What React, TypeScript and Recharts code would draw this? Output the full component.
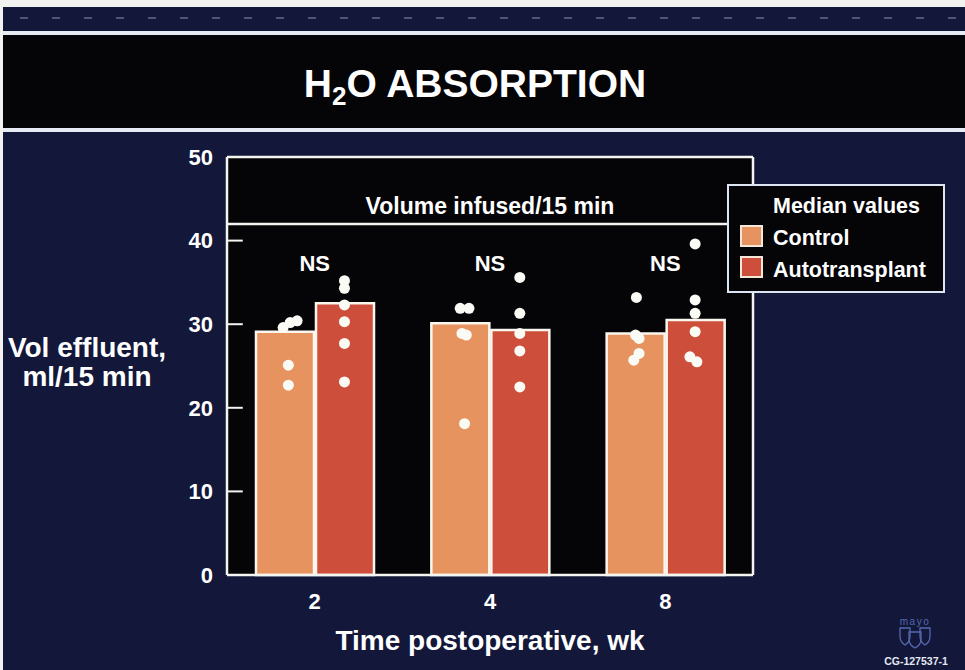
import React from "react";
import {
  ComposedChart,
  Bar,
  Scatter,
  XAxis,
  YAxis,
  CartesianGrid,
  ReferenceLine,
  ReferenceDot,
  ReferenceArea,
  Legend,
} from "recharts";

const weeks = ["2", "4", "8"];
const controlMedian = [29.1, 30.1, 28.9];
const autoMedian = [32.5, 29.3, 30.5];

// individual animals at each week
const controlPoints = [
  [29.6, 30.2, 30.4, 25.1, 22.7],
  [31.9, 31.9, 28.9, 28.7, 18.1],
  [33.2, 28.7, 28.3, 26.5, 25.7],
];
const autoPoints = [
  [35.2, 34.3, 32.3, 30.3, 27.7, 23.1],
  [35.6, 31.3, 28.9, 26.8, 22.5],
  [39.6, 32.9, 31.3, 29.1, 26.1, 25.5],
];
// sideways nudge (in category widths) so touching dots stay readable
const controlNudge = [
  [-0.01, 0.03, 0.07, 0.02, 0.02],
  [0.0, 0.05, 0.01, 0.035, 0.025],
  [0.005, 0.0, 0.02, 0.02, -0.01],
];
const autoNudge = [
  [0, 0, 0, 0, 0, 0],
  [0, 0, 0, 0, 0],
  [0, 0, 0, 0, -0.03, 0.01],
];

const yTicks = [0, 10, 20, 30, 40, 50];
const innerTicks = [10, 20, 30, 40];
const infusedVolume = 42;
const nsLevel = 37.3;

const CONTROL_COLOR = "#e7935f";
const AUTO_COLOR = "#cd4e3b";
const NAVY = "#13173a";
const FONT = '"Liberation Sans", Arial, Helvetica, sans-serif';

// centre of each bar inside its category, on the 0..3 position axis
const CONTROL_SLOT = 0.33;
const AUTO_SLOT = 0.67;

const data = weeks.map((week, i) => ({
  week,
  control: controlMedian[i],
  auto: autoMedian[i],
}));

const dots = weeks.flatMap((_, i) => [
  ...controlPoints[i].map((v, j) => ({ pos: i + CONTROL_SLOT + controlNudge[i][j], value: v })),
  ...autoPoints[i].map((v, j) => ({ pos: i + AUTO_SLOT + autoNudge[i][j], value: v })),
]);

const WhiteDot = (props: any) => <circle cx={props.cx} cy={props.cy} r={5.5} fill="#fbfbf6" />;

const LegendBox = () => (
  <svg width={218} height={109} style={{ display: "block" }}>
    <rect x={1} y={1} width={216} height={107} fill="#050407" stroke="#dde5f2" strokeWidth={2} />
    <g fill="#fff" fontWeight={700} fontSize={21.5} fontFamily={FONT}>
      <text x={46} y={29}>Median values</text>
      <rect x={14} y={42} width={21} height={20} fill={CONTROL_COLOR} stroke="#f4e6d8" strokeWidth={2} />
      <text x={46} y={61}>Control</text>
      <rect x={14} y={73} width={21} height={20} fill={AUTO_COLOR} stroke="#f4e6d8" strokeWidth={2} />
      <text x={46} y={93}>Autotransplant</text>
    </g>
  </svg>
);

const YTitle = ({ viewBox }: any) => {
  const cy = viewBox.y + viewBox.height / 2;
  return (
    <text x={87} textAnchor="middle" fill="#fff" fontSize={28} fontWeight={700} fontFamily={FONT}>
      <tspan x={87} y={cy - 9}>Vol effluent,</tspan>
      <tspan x={87} y={cy + 20}>ml/15 min</tspan>
    </text>
  );
};

const Backdrop = () => (
  <svg width={965} height={670} style={{ position: "absolute", left: 0, top: 0 }}>
    <rect x={0} y={0} width={965} height={670} fill="#f2f2f0" />
    <rect x={3} y={7} width={962} height={663} fill={NAVY} />
    <line x1={20} y1={18} x2={960} y2={18} stroke="#4f5575" strokeWidth={2} strokeDasharray="8 24" />
    <rect x={3} y={31} width={962} height={101} fill="#e6eaf2" />
    <rect x={3} y={35} width={962} height={93} fill="#050407" />
    <text x={475} y={97} textAnchor="middle" fill="#fff" fontSize={39} fontWeight={700} fontFamily={FONT}>
      H
      <tspan fontSize={26} dy={8}>2</tspan>
      <tspan dy={-8}>O ABSORPTION</tspan>
    </text>
    {/* clinic mark */}
    <g fill="none" stroke="#5669ae" strokeWidth={1.3}>
      <path d="M900 628 h10 v8 q0 6 -5 9 q-5 -3 -5 -9 z" />
      <path d="M920 628 h10 v8 q0 6 -5 9 q-5 -3 -5 -9 z" />
      <path d="M909 632 h12 v7 q0 6 -6 9 q-6 -3 -6 -9 z" />
    </g>
    <text x={915} y={625} textAnchor="middle" fill="#5669ae" fontSize={10} fontFamily={FONT} letterSpacing={1.5}>
      mayo
    </text>
    <text x={916} y={665} textAnchor="middle" fill="#e4e9f3" fontSize={10.5} fontWeight={700} fontFamily={FONT}>
      CG-127537-1
    </text>
  </svg>
);

export default function App() {
  const tickStyle = { fill: "#fff", fontSize: 22, fontWeight: 700, fontFamily: FONT };
  return (
    <div style={{ position: "absolute", left: 0, top: 0, width: 965, height: 670, overflow: "hidden", fontFamily: FONT }}>
      <Backdrop />
      <div style={{ position: "absolute", left: 0, top: 0 }}>
        <ComposedChart
          width={965}
          height={670}
          data={data}
          margin={{ top: 157, right: 212, bottom: 0, left: 0 }}
          barSize={58}
          barGap={2}
        >
          <CartesianGrid fill="#050407" stroke="none" horizontal={false} vertical={false} />
          <XAxis
            xAxisId="cat"
            dataKey="week"
            height={95}
            tick={tickStyle}
            tickLine={false}
            tickSize={0}
            tickMargin={18}
            axisLine={{ stroke: "#f4f4f0", strokeWidth: 2.5 }}
            label={{
              value: "Time postoperative, wk",
              position: "insideBottom",
              offset: 20,
              fill: "#fff",
              fontSize: 28,
              fontWeight: 700,
            }}
          />
          <XAxis xAxisId="pos" dataKey="pos" type="number" domain={[0, 3]} hide allowDataOverflow />
          <YAxis
            width={227}
            domain={[0, 50]}
            ticks={yTicks}
            tick={tickStyle}
            tickLine={false}
            tickSize={0}
            tickMargin={14}
            axisLine={{ stroke: "#f4f4f0", strokeWidth: 2.5 }}
            label={{ content: YTitle }}
          />
          {/* frame: top, right edge and the infused-volume ceiling */}
          <ReferenceLine xAxisId="cat" y={50} stroke="#f4f4f0" strokeWidth={2.5} />
          <ReferenceLine xAxisId="pos" x={3} stroke="#f4f4f0" strokeWidth={2.5} />
          <ReferenceLine xAxisId="cat" y={infusedVolume} stroke="#f4f4f0" strokeWidth={2.5} />
          <ReferenceArea
            xAxisId="pos"
            x1={0}
            x2={3}
            y1={infusedVolume}
            y2={50}
            fill="none"
            stroke="none"
            label={{
              value: "Volume infused/15 min",
              position: "insideBottom",
              offset: 10,
              fill: "#fff",
              fontSize: 23,
              fontWeight: 700,
            }}
          />
          {innerTicks.map((t) => (
            <ReferenceLine
              key={t}
              xAxisId="pos"
              segment={[
                { x: 0, y: t },
                { x: 0.09, y: t },
              ]}
              stroke="#f4f4f0"
              strokeWidth={2}
            />
          ))}
          <Bar xAxisId="cat" dataKey="control" name="Control" fill={CONTROL_COLOR} stroke="#fbf6ee" strokeWidth={2.5} isAnimationActive={false} />
          <Bar xAxisId="cat" dataKey="auto" name="Autotransplant" fill={AUTO_COLOR} stroke="#fbf6ee" strokeWidth={2.5} isAnimationActive={false} />
          <Scatter xAxisId="pos" data={dots} dataKey="value" shape={WhiteDot} isAnimationActive={false} />
          {weeks.map((w) => (
            <ReferenceDot
              key={w}
              xAxisId="cat"
              x={w}
              y={nsLevel}
              r={0}
              fill="none"
              stroke="none"
              label={{ value: "NS", position: "center", fill: "#fff", fontSize: 22, fontWeight: 700 }}
            />
          ))}
          <Legend
            layout="vertical"
            align="center"
            verticalAlign="middle"
            content={LegendBox}
            wrapperStyle={{ left: 727, top: 184, width: 218, height: 109 }}
          />
        </ComposedChart>
      </div>
    </div>
  );
}
